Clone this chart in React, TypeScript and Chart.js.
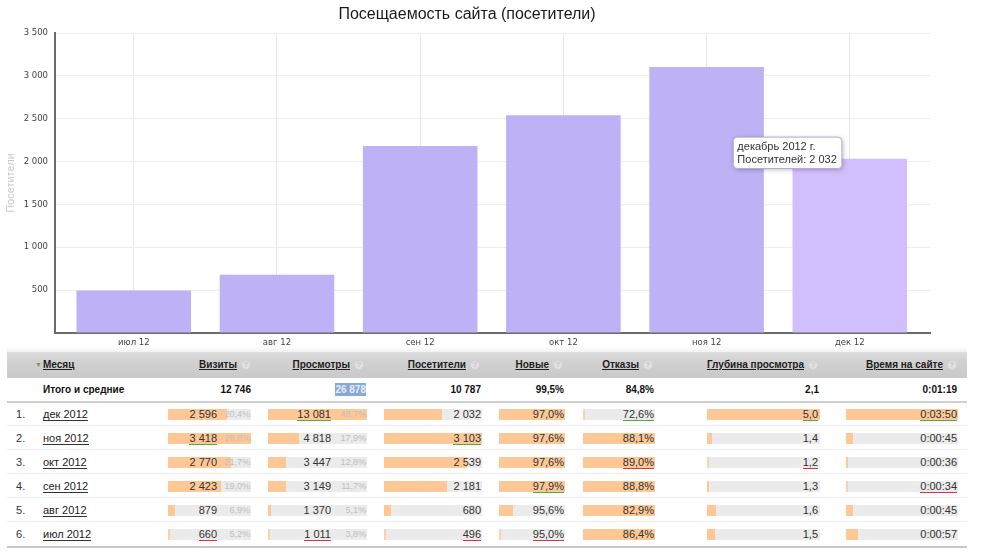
import React, { useEffect, useRef } from 'react';
import { Chart, registerables, Tooltip } from 'chart.js';

Chart.register(...registerables);

// ---------- chart data ----------
const chartCategories = ['июл 12', 'авг 12', 'сен 12', 'окт 12', 'ноя 12', 'дек 12'];
const chartTooltipMonths = ['июль 2012 г.', 'август 2012 г.', 'сентябрь 2012 г.', 'октябрь 2012 г.', 'ноябрь 2012 г.', 'декабрь 2012 г.'];
const chartVisitors = [496, 680, 2181, 2539, 3103, 2032];
const yMax = 3500;
const yStep = 500;
const hoveredIndex = 5;

// ---------- table data ----------
const tableMonths = ['дек 2012', 'ноя 2012', 'окт 2012', 'сен 2012', 'авг 2012', 'июл 2012'];
const visits = [2596, 3418, 2770, 2423, 879, 660];
const visitsShare = [20.4, 26.8, 21.7, 19.0, 6.9, 5.2];
const views = [13081, 4818, 3447, 3149, 1370, 1011];
const viewsShare = [48.7, 17.9, 12.8, 11.7, 5.1, 3.8];
const visitors = [2032, 3103, 2539, 2181, 680, 496];
const newShare = [97.0, 97.6, 97.6, 97.9, 95.6, 95.0];
const bounceShare = [72.6, 88.1, 89.0, 88.8, 82.9, 86.4];
const depth = [5.0, 1.4, 1.2, 1.3, 1.6, 1.5];
const timeOnSite = ['0:03:50', '0:00:45', '0:00:36', '0:00:34', '0:00:45', '0:00:57'];

const totalVisits = 12746;
const totalViews = 26878;
const totalVisitors = 10787;
const totalNew = 99.5;
const totalBounce = 84.8;
const totalDepth = 2.1;
const totalTime = '0:01:19';

// bar fill fractions in each cell
const visitsFill = [0.71, 1, 0.76, 0.64, 0.08, 0];
const viewsFill = [1, 0.31, 0.18, 0.18, 0.03, 0];
const visitorsFill = [0.59, 1, 0.85, 0.64, 0.07, 0];
const newFill = [1, 1, 1, 1, 0.21, 0];
const bounceFill = [0, 1, 1, 1, 1, 1];
const depthFill = [1, 0.04, 0, 0.01, 0.08, 0.07];
const timeFill = [1, 0.06, 0.01, 0, 0.06, 0.11];

// best (green) / worst (red) row per column
const bestRows = [1, 0, 1, 3, 0, 0, 0];
const worstRows = [5, 5, 5, 5, 2, 2, 3];

const columnTitles = ['Визиты', 'Просмотры', 'Посетители', 'Новые', 'Отказы', 'Глубина просмотра', 'Время на сайте'];

// ---------- helpers ----------
const fmtInt = (n: number) => String(Math.round(n)).replace(/\B(?=(\d{3})+(?!\d))/g, ' ');
const fmtDec = (n: number) => n.toFixed(1).replace('.', ',');
const fmtPct = (n: number) => fmtDec(n) + '%';

const FONT = "'Liberation Sans', Arial, sans-serif";
const TICK_FONT = "'DejaVu Sans', Verdana, sans-serif";

// layout of the table columns (pixels)
const LAYOUT = [
  { trackL: 168, trackR: 251, valueR: 217, shareR: 250, iconR: 251 },
  { trackL: 268, trackR: 367, valueR: 331, shareR: 366, iconR: 364 },
  { trackL: 384, trackR: 482, valueR: 481, shareR: 0, iconR: 480 },
  { trackL: 499, trackR: 565, valueR: 564, shareR: 0, iconR: 563 },
  { trackL: 583, trackR: 655, valueR: 654, shareR: 0, iconR: 653 },
  { trackL: 707, trackR: 820, valueR: 818, shareR: 0, iconR: 818 },
  { trackL: 846, trackR: 958, valueR: 957, shareR: 0, iconR: 957 },
];

const HEADER_TOP = 352;
const HEADER_H = 26;
const TOTAL_TOP = 378;
const ROW_TOP = 402;
const ROW_H = 24;
const PAGE_W = 997;

(Tooltip as any).positioners.leftOfBar = function (items: any[]) {
  if (!items.length) return false;
  const el = items[0].element;
  return { x: el.x - 8, y: el.y - 6 };
};

const tooltipShadow = {
  id: 'tooltipShadow',
  beforeTooltipDraw(chart: any, args: any) {
    const t = args.tooltip;
    if (!t || !t.opacity) return;
    const ctx = chart.ctx;
    ctx.save();
    ctx.shadowColor = 'rgba(0,0,0,0.28)';
    ctx.shadowBlur = 5;
    ctx.shadowOffsetX = 1;
    ctx.shadowOffsetY = 1;
    ctx.fillStyle = '#ffffff';
    ctx.beginPath();
    if (ctx.roundRect) ctx.roundRect(t.x, t.y, t.width, t.height, 4);
    else ctx.rect(t.x, t.y, t.width, t.height);
    ctx.fill();
    ctx.restore();
  },
};

function ChartBlock() {
  const ref = useRef<HTMLCanvasElement | null>(null);
  useEffect(() => {
    if (!ref.current) return;
    const chart = new Chart(ref.current, {
      type: 'bar',
      data: {
        datasets: [
          {
            label: 'Посетители',
            data: chartVisitors.map((v, i) => ({ x: i, y: v })),
            backgroundColor: '#beb1f5',
            hoverBackgroundColor: '#d1bffc',
            borderWidth: 0,
            hoverBorderWidth: 0,
            categoryPercentage: 1,
            barPercentage: 0.8,
          } as any,
        ],
      },
      plugins: [tooltipShadow],
      options: {
        animation: false,
        responsive: false,
        events: [],
        layout: { padding: { left: 4, right: 67, top: 0, bottom: 0 } },
        scales: {
          x: {
            type: 'linear',
            offset: false,
            min: -0.55,
            max: 5.56,
            afterBuildTicks: (s: any) => {
              s.ticks = chartCategories.map((_, i) => ({ value: i }));
            },
            afterFit: (s: any) => {
              s.height = 17;
            },
            ticks: {
              callback: (v: any) => chartCategories[v as number] ?? '',
              font: { family: TICK_FONT, size: 8.5 },
              color: '#444',
              padding: 5,
              maxRotation: 0,
              autoSkip: false,
            },
            grid: { color: '#e6e6e6', drawTicks: false, offset: false },
            border: { color: '#6b6b6b', width: 2 },
          },
          y: {
            min: 0,
            max: yMax,
            afterFit: (s: any) => {
              s.width = 51;
            },
            ticks: {
              stepSize: yStep,
              callback: (v: any) => (v === 0 ? '' : fmtInt(v as number)),
              font: { family: TICK_FONT, size: 8.5 },
              color: '#444',
              padding: 7,
            },
            title: {
              display: true,
              text: 'Посетители',
              color: '#cacaca',
              font: { family: FONT, size: 11 },
              padding: 0,
            },
            grid: { color: '#ededed', drawTicks: false },
            border: { color: '#6b6b6b', width: 2 },
          },
        },
        plugins: {
          legend: { display: false },
          title: {
            display: true,
            text: 'Посещаемость сайта (посетители)',
            color: '#1a1a1a',
            font: { family: FONT, size: 16, weight: 'normal' },
            padding: { top: 5, bottom: 8.8 },
          },
          tooltip: {
            enabled: true,
            position: 'leftOfBar' as any,
            xAlign: 'right',
            yAlign: 'center',
            caretSize: 0,
            caretPadding: 0,
            displayColors: false,
            backgroundColor: 'rgba(255,255,255,0.95)',
            borderColor: 'rgba(172,164,210,0.9)',
            borderWidth: 1,
            cornerRadius: 4,
            padding: { left: 4, right: 5, top: 3, bottom: 2 },
            titleColor: '#333',
            bodyColor: '#333',
            titleFont: { family: FONT, size: 11, weight: 'normal' },
            bodyFont: { family: FONT, size: 11 },
            titleMarginBottom: 0,
            titleSpacing: 0,
            bodySpacing: 0,
            callbacks: {
              title: (items: any[]) => chartTooltipMonths[items[0].dataIndex],
              label: (item: any) => 'Посетителей: ' + fmtInt(item.parsed.y),
            },
          },
        },
      },
    } as any);
    chart.setActiveElements([{ datasetIndex: 0, index: hoveredIndex }]);
    chart.tooltip?.setActiveElements([{ datasetIndex: 0, index: hoveredIndex }], { x: 0, y: 0 });
    chart.update();
    return () => chart.destroy();
  }, []);
  return (
    <canvas
      ref={ref}
      width={PAGE_W}
      height={350}
      style={{ position: 'absolute', left: 0, top: 0, width: PAGE_W, height: 350 }}
    />
  );
}

function HelpIcon({ right, top }: { right: number; top: number }) {
  return (
    <div
      style={{
        position: 'absolute',
        left: right - 10,
        top,
        width: 10,
        height: 10,
        borderRadius: 5,
        background: '#e2e2e2',
        border: '1px solid #d2d2d2',
        boxSizing: 'border-box',
        color: '#c4c4c4',
        fontSize: 8,
        fontWeight: 'bold',
        lineHeight: '8px',
        textAlign: 'center',
        fontFamily: FONT,
      }}
    >
      ?
    </div>
  );
}

function Table() {
  const cols = [
    { values: visits.map(fmtInt), shares: visitsShare.map(fmtPct), fill: visitsFill, total: fmtInt(totalVisits) },
    { values: views.map(fmtInt), shares: viewsShare.map(fmtPct), fill: viewsFill, total: fmtInt(totalViews) },
    { values: visitors.map(fmtInt), shares: null, fill: visitorsFill, total: fmtInt(totalVisitors) },
    { values: newShare.map(fmtPct), shares: null, fill: newFill, total: fmtPct(totalNew) },
    { values: bounceShare.map(fmtPct), shares: null, fill: bounceFill, total: fmtPct(totalBounce) },
    { values: depth.map(fmtDec), shares: null, fill: depthFill, total: fmtDec(totalDepth) },
    { values: timeOnSite, shares: null, fill: timeFill, total: totalTime },
  ];

  const els: React.ReactNode[] = [];

  els.push(
    <div key="shadow" style={{ position: 'absolute', left: 7, top: HEADER_TOP - 6, width: 960, height: 6, background: 'linear-gradient(rgba(0,0,0,0), rgba(0,0,0,0.05))' }} />
  );
  els.push(
    <div
      key="hdr"
      style={{
        position: 'absolute',
        left: 7,
        top: HEADER_TOP,
        width: 960,
        height: HEADER_H,
        background: 'linear-gradient(#dddddd 0%, #d1d1d1 35%, #c9c9c9 100%)',
      }}
    />
  );
  els.push(
    <div key="hm-tri" style={{ position: 'absolute', left: 35, top: HEADER_TOP, height: HEADER_H, lineHeight: HEADER_H + 'px', fontSize: 7, color: '#8a8a8a', fontFamily: FONT }}>▼</div>
  );
  els.push(
    <div key="hm" style={{ position: 'absolute', left: 43, top: HEADER_TOP, height: HEADER_H, lineHeight: HEADER_H + 'px', fontSize: 10, fontWeight: 'bold', color: '#1e1e1e', textDecoration: 'underline', fontFamily: FONT }}>Месяц</div>
  );
  columnTitles.forEach((t, c) => {
    const L = LAYOUT[c];
    els.push(
      <div
        key={'h' + c}
        style={{
          position: 'absolute',
          right: PAGE_W - (L.iconR - 14),
          top: HEADER_TOP,
          height: HEADER_H,
          lineHeight: HEADER_H + 'px',
          fontSize: 10,
          fontWeight: 'bold',
          color: '#1e1e1e',
          textDecoration: 'underline',
          whiteSpace: 'nowrap',
          fontFamily: FONT,
        }}
      >
        {t}
      </div>
    );
    els.push(<HelpIcon key={'hi' + c} right={L.iconR} top={HEADER_TOP + 8} />);
  });

  els.push(
    <div key="tt" style={{ position: 'absolute', left: 43, top: TOTAL_TOP, height: ROW_H, lineHeight: ROW_H + 'px', fontSize: 10, fontWeight: 'bold', color: '#111', fontFamily: FONT }}>Итого и средние</div>
  );
  cols.forEach((col, c) => {
    const L = LAYOUT[c];
    const highlighted = c === 1;
    els.push(
      <div
        key={'t' + c}
        style={{
          position: 'absolute',
          right: PAGE_W - (L.trackR - (c === 0 ? 0 : 1)),
          top: TOTAL_TOP,
          height: ROW_H,
          lineHeight: ROW_H + 'px',
          fontSize: 10,
          fontWeight: 'bold',
          color: '#111',
          whiteSpace: 'nowrap',
          fontFamily: FONT,
        }}
      >
        <span style={highlighted ? { background: '#86a9d6', color: '#e6edf7', padding: '1px 0' } : {}}>{col.total}</span>
      </div>
    );
  });
  els.push(<div key="tl" style={{ position: 'absolute', left: 7, top: ROW_TOP - 1, width: 960, height: 2, background: '#d0d0d0' }} />);

  tableMonths.forEach((m, r) => {
    const top = ROW_TOP + r * ROW_H;
    const center = top + ROW_H / 2;
    els.push(
      <div key={'n' + r} style={{ position: 'absolute', left: 16, top: center - 7, height: 14, lineHeight: '14px', fontSize: 11, color: '#333', fontFamily: FONT }}>{r + 1}.</div>
    );
    els.push(
      <div key={'m' + r} style={{ position: 'absolute', left: 43, top: center - 7, height: 14, lineHeight: '14px', fontSize: 11, color: '#222', whiteSpace: 'nowrap', fontFamily: FONT }}>
        <span style={{ display: 'inline-block', lineHeight: '12px', borderBottom: '1px solid #333' }}>{m}</span>
      </div>
    );
    cols.forEach((col, c) => {
      const L = LAYOUT[c];
      const w = L.trackR - L.trackL;
      const fw = Math.max(2, Math.round(col.fill[r] * w));
      els.push(
        <div key={'b' + r + '-' + c} style={{ position: 'absolute', left: L.trackL, top: center - 5, width: w, height: 11, background: '#ebebeb' }}>
          <div style={{ position: 'absolute', left: 0, top: 0, width: fw, height: 11, background: col.fill[r] > 0 ? '#fdc896' : '#f8d3ae' }} />
        </div>
      );
      const mark = bestRows[c] === r ? 'best' : worstRows[c] === r ? 'worst' : '';
      const spanStyle: React.CSSProperties = {
        display: 'inline-block',
        lineHeight: '12px',
        borderBottom: mark ? '1px solid ' + (mark === 'best' ? '#4fae3c' : '#d93636') : '1px solid transparent',
      };
      els.push(
        <div
          key={'v' + r + '-' + c}
          style={{
            position: 'absolute',
            right: PAGE_W - L.valueR,
            top: center - 7,
            height: 14,
            lineHeight: '14px',
            fontSize: 11,
            color: '#333',
            whiteSpace: 'nowrap',
            fontFamily: FONT,
          }}
        >
          <span style={spanStyle}>{col.values[r]}</span>
        </div>
      );
      if (col.shares) {
        els.push(
          <div
            key={'s' + r + '-' + c}
            style={{
              position: 'absolute',
              right: PAGE_W - L.shareR,
              top: center - 6,
              height: 12,
              lineHeight: '12px',
              fontSize: 9,
              color: '#c0c0c0',
              whiteSpace: 'nowrap',
              fontFamily: FONT,
            }}
          >
            {col.shares[r]}
          </div>
        );
      }
    });
    if (r < tableMonths.length - 1) {
      els.push(<div key={'sep' + r} style={{ position: 'absolute', left: 7, top: top + ROW_H - 1, width: 960, height: 1, background: '#ececec' }} />);
    }
  });
  els.push(
    <div key="bl" style={{ position: 'absolute', left: 7, top: ROW_TOP + tableMonths.length * ROW_H, width: 960, height: 2, background: '#c8c8c8' }} />
  );

  return <>{els}</>;
}

export default function App() {
  return (
    <div style={{ position: 'absolute', left: 0, top: 0, width: PAGE_W, height: 556, background: '#fff', overflow: 'hidden', fontFamily: FONT }}>
      <ChartBlock />
      <Table />
    </div>
  );
}
